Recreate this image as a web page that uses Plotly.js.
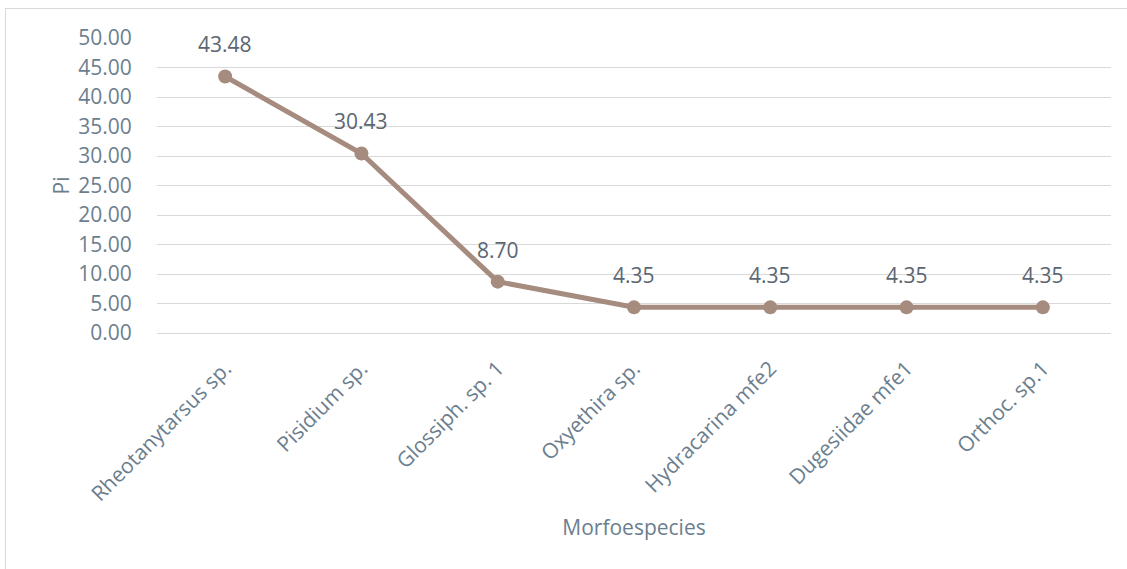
<!DOCTYPE html>
<html>
<head>
<meta charset="utf-8">
<script src="https://cdn.plot.ly/plotly-3.0.1.min.js"></script>
<style>
  html, body { margin: 0; padding: 0; background: #ffffff; overflow: hidden; }
  #wrap { position: relative; width: 1127px; height: 569px; overflow: hidden; }
  #chart { width: 1127px; height: 569px; }
  #frame { position: absolute; left: 5px; top: 8px; width: 1200px; height: 700px;
           border: 1px solid #d9d9d9; box-sizing: border-box; pointer-events: none; }
</style>
</head>
<body>
<div id="wrap">
  <div id="chart"></div>
  <div id="frame"></div>
</div>
<script>
const categories = ["Rheotanytarsus sp.", "Pisidium sp.", "Glossiph. sp. 1", "Oxyethira sp.", "Hydracarina mfe2", "Dugesiidae mfe1", "Orthoc. sp.1"];
const piValues = [43.48, 30.43, 8.70, 4.35, 4.35, 4.35, 4.35];
const yTickValues = [0, 5, 10, 15, 20, 25, 30, 35, 40, 45, 50];

const lineColor = "#a68b7f";
const tickColor = "#6b7e8e";
const labelColor = "#5b6672";
const fontFam = "'Open Sans', 'Liberation Sans', sans-serif";

const trace = {
  x: categories,
  y: piValues,
  type: "scatter",
  mode: "lines+markers",
  line: { color: lineColor, width: 5 },
  marker: { color: lineColor, size: 14 },
  cliponaxis: false,
  hoverinfo: "skip"
};

const annotations = categories.map((c, i) => ({
  x: c, y: piValues[i], xref: "x", yref: "y",
  text: piValues[i].toFixed(2), showarrow: false, yshift: 32,
  font: { family: fontFam, size: 21, color: labelColor }
}));

const layout = {
  width: 1127, height: 569,
  margin: { l: 157, r: 16, t: 38, b: 236 },
  paper_bgcolor: "#ffffff", plot_bgcolor: "#ffffff",
  showlegend: false,
  font: { family: fontFam, size: 21, color: tickColor },
  xaxis: {
    type: "category",
    range: [-0.5, 6.5],
    tickangle: -45,
    ticks: "outside", ticklen: 14, tickcolor: "rgba(0,0,0,0)",
    showgrid: false, showline: false, zeroline: false,
    tickfont: { family: fontFam, size: 21, color: tickColor },
    automargin: false,
    title: { text: "Morfoespecies", font: { family: fontFam, size: 21, color: tickColor }, standoff: 14 }
  },
  yaxis: {
    range: [0, 50],
    tickvals: yTickValues,
    ticktext: yTickValues.map(v => v.toFixed(2)),
    ticks: "outside", ticklen: 20, tickcolor: "rgba(0,0,0,0)",
    showgrid: true, gridcolor: "#d9d9d9", gridwidth: 1,
    zeroline: true, zerolinecolor: "#d9d9d9", zerolinewidth: 1,
    showline: false,
    tickfont: { family: fontFam, size: 21, color: tickColor },
    automargin: false,
    title: { text: "Pi", font: { family: fontFam, size: 21, color: tickColor }, standoff: 2 }
  },
  annotations: annotations
};

Plotly.newPlot("chart", [trace], layout, { displayModeBar: false, staticPlot: true });
</script>
</body>
</html>
